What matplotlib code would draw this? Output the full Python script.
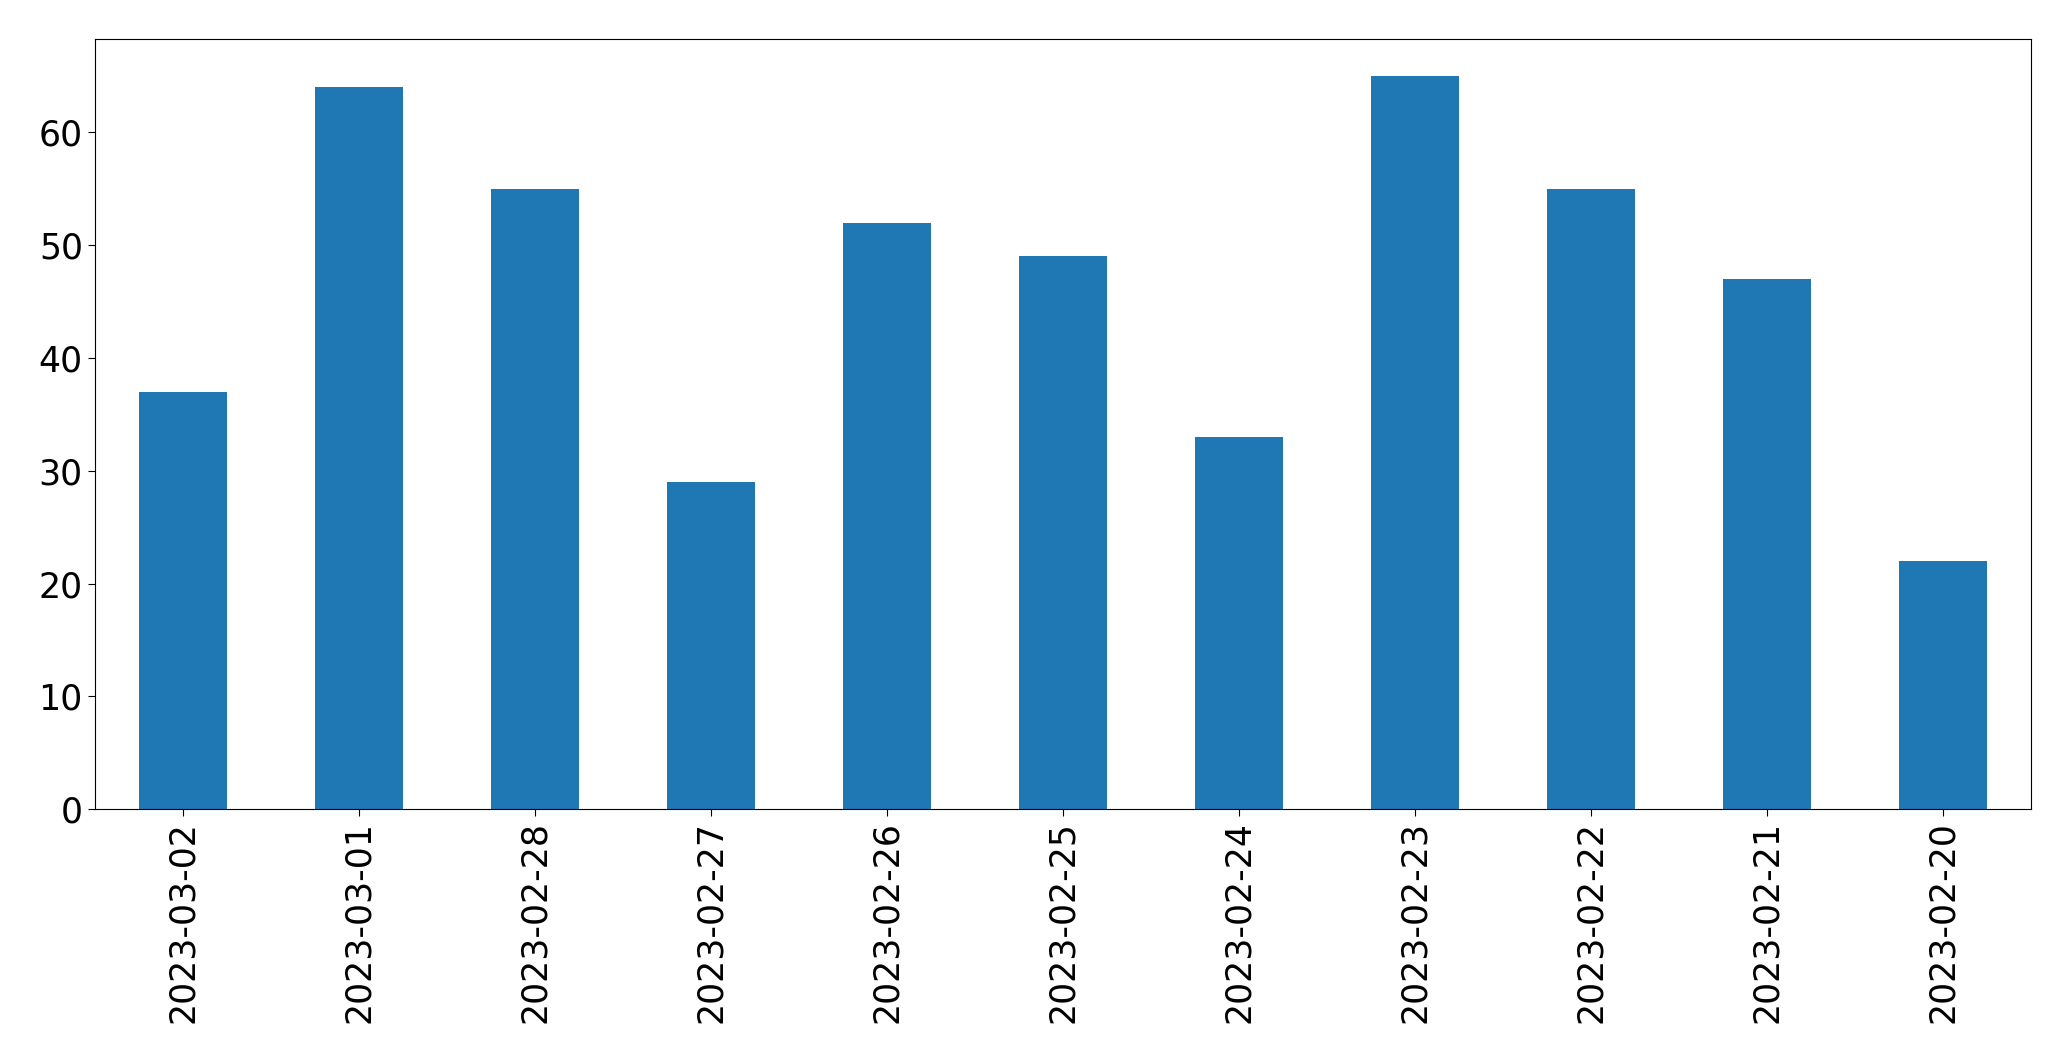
import matplotlib
matplotlib.use("Agg")
import matplotlib.pyplot as plt

dates = ["2023-03-02", "2023-03-01", "2023-02-28", "2023-02-27", "2023-02-26",
         "2023-02-25", "2023-02-24", "2023-02-23", "2023-02-22", "2023-02-21",
         "2023-02-20"]
values = [37, 64, 55, 29, 52, 49, 33, 65, 55, 47, 22]

fig = plt.figure(figsize=(20.71, 10.61), dpi=100)
ax = fig.add_axes([0.0457, 0.2372, 0.9350, 0.7258])
x = list(range(len(dates)))
ax.bar(x, values, width=0.5, color="#1f77b4")
ax.set_xlim(-0.5, len(dates) - 0.5)
ax.set_ylim(0, max(values) * 1.05)
ax.set_xticks(x)
ax.set_xticklabels(dates, rotation=90)
ax.tick_params(labelsize=25, length=5)
ax.set_yticks([0, 10, 20, 30, 40, 50, 60])
fig.savefig("out.png", dpi=100)
